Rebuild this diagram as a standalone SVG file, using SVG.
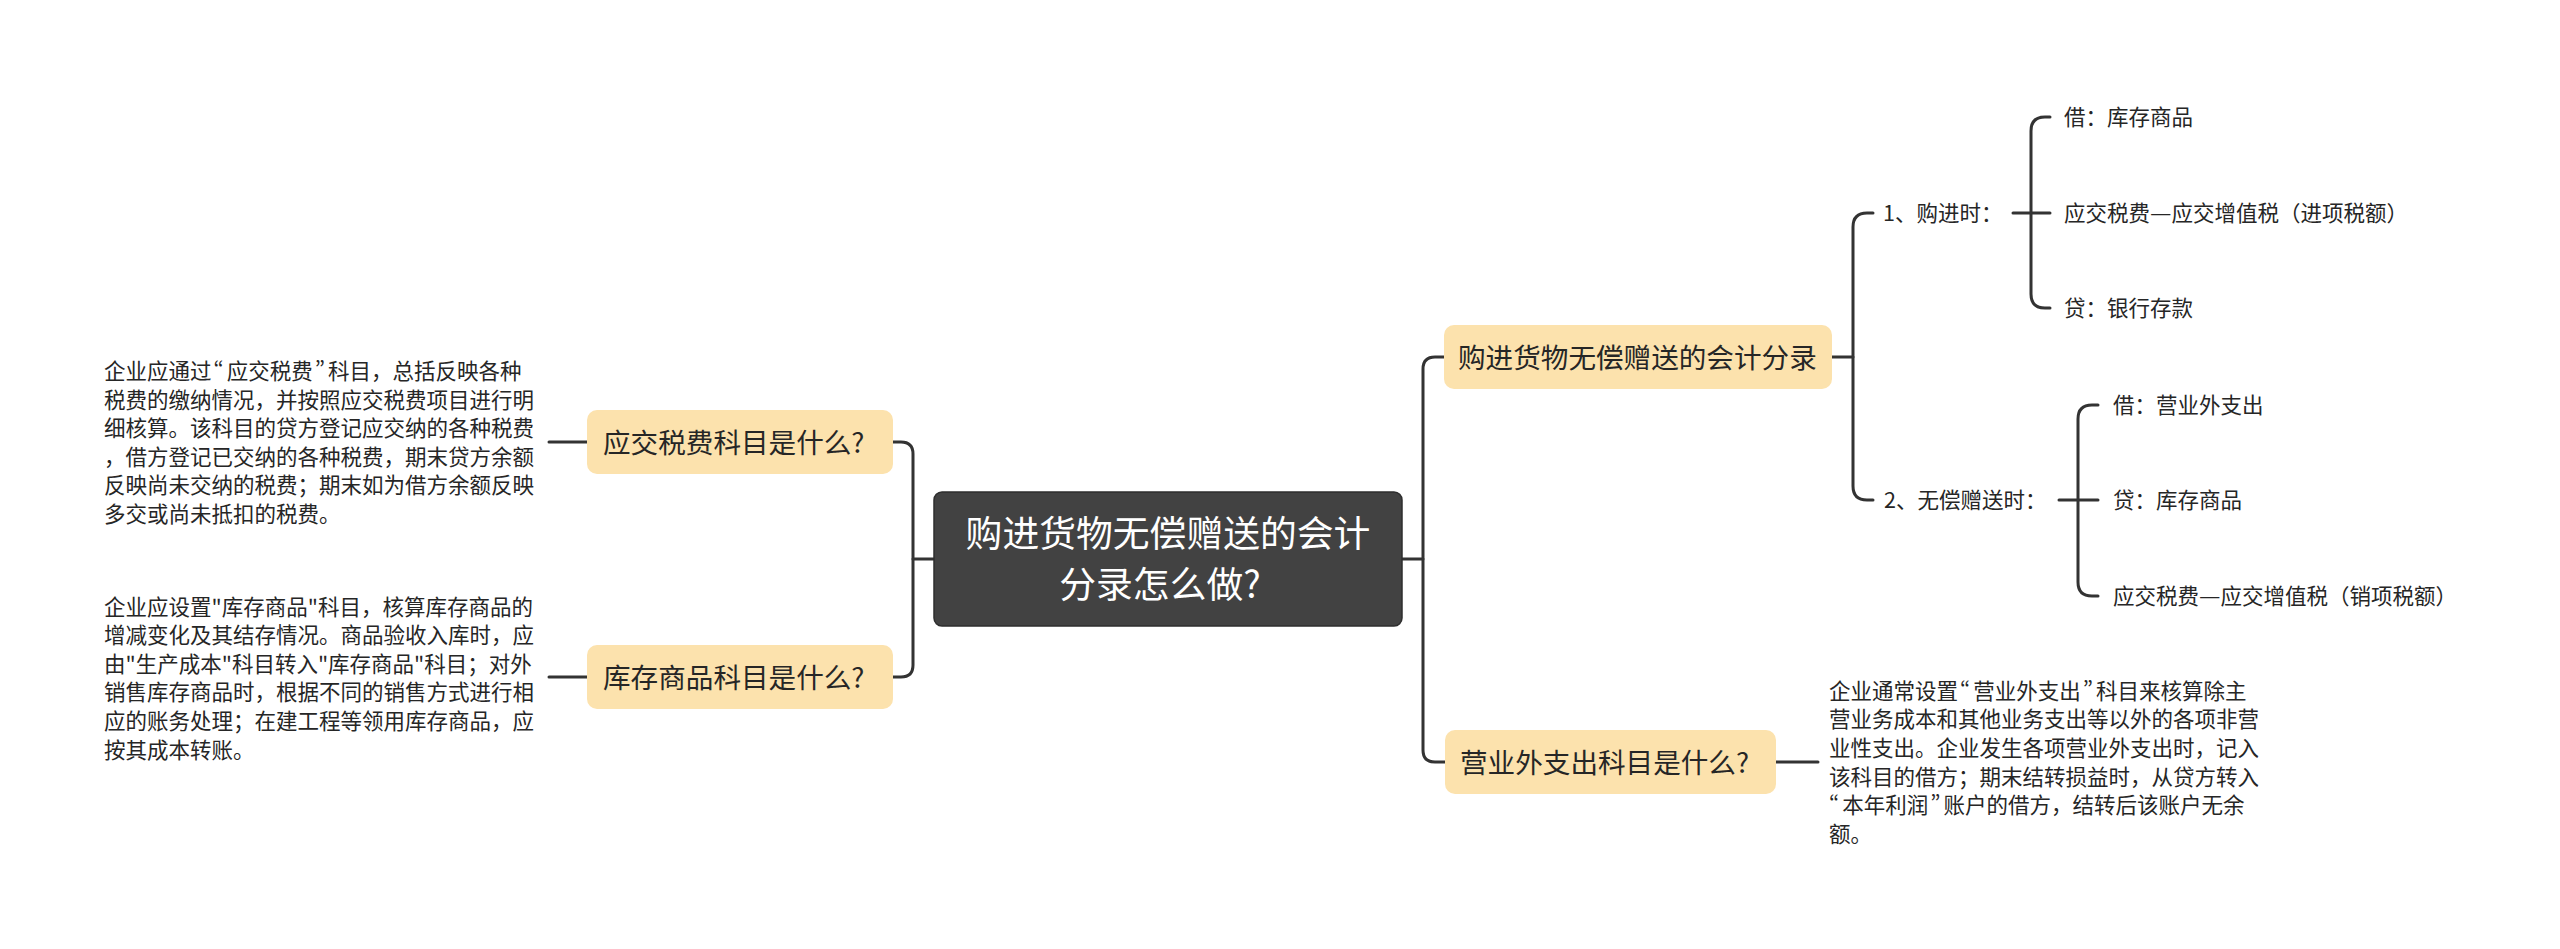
<svg xmlns="http://www.w3.org/2000/svg" width="2560" height="949" viewBox="0 0 2560 949">
<style>
text{font-family:"Noto Sans CJK SC","Noto Sans",sans-serif;fill:#262626}
.para{font-size:21.5px}
.item{font-size:21.5px}
.topic{font-size:27.6px}
.root{font-size:36.8px;fill:#ffffff}
.box{fill:#FCE2AD}
.pw{font-feature-settings:"pwid"}
.conn path{fill:none;stroke:#333333;stroke-width:3;stroke-linecap:round;stroke-linejoin:round}
</style>
<rect width="2560" height="949" fill="#ffffff"/>
<g class="conn" id="connectors">
<path d="M934 559 H913"/>
<path d="M893 442 H901 Q913 442 913 454 V665 Q913 677 901 677 H893"/>
<path d="M549 442 H587"/>
<path d="M549 677 H587"/>
<path d="M1402 559 H1423"/>
<path d="M1444 357 H1435 Q1423 357 1423 369 V750 Q1423 762 1435 762 H1445"/>
<path d="M1776 762 H1818"/>
<path d="M1832 357 H1853"/>
<path d="M1873 213 H1867 Q1853 213 1853 227 V486 Q1853 500 1867 500 H1873"/>
<path d="M2013 213 H2050"/>
<path d="M2050 117 H2045 Q2031 117 2031 131 V294 Q2031 308 2045 308 H2050"/>
<path d="M2059 500 H2098"/>
<path d="M2098 405 H2092 Q2078 405 2078 419 V582 Q2078 596 2092 596 H2098"/>
</g>
<g id="root">
<rect x="934" y="492" width="468" height="134" rx="8" fill="#424242" stroke="#2e2e2e" stroke-width="1.5"/>
<text class="root" x="1168" y="547" text-anchor="middle">购进货物无偿赠送的会计</text>
<text class="root" x="1160" y="598" text-anchor="middle">分录怎么做?</text>
</g>
<g id="node-tax">
<rect class="box" x="587" y="410" width="306" height="64" rx="10"/>
<text class="topic" x="603" y="452.5">应交税费科目是什么?</text>
</g>
<g id="text-tax">
<text class="para" x="104" y="379">企业应通过<tspan class="pw" dx="2">“</tspan><tspan dx="3">应交税费</tspan><tspan class="pw" dx="2">”</tspan><tspan dx="3">科目，总括反映各种</tspan></text>
<text class="para" x="104" y="407.6">税费的缴纳情况，并按照应交税费项目进行明</text>
<text class="para" x="104" y="436.2">细核算。该科目的贷方登记应交纳的各种税费</text>
<text class="para" x="104" y="464.8">，借方登记已交纳的各种税费，期末贷方余额</text>
<text class="para" x="104" y="493.4">反映尚未交纳的税费；期末如为借方余额反映</text>
<text class="para" x="104" y="522">多交或尚未抵扣的税费。</text>
</g>
<g id="node-stock">
<rect class="box" x="587" y="645" width="306" height="64" rx="10"/>
<text class="topic" x="603" y="687.5">库存商品科目是什么?</text>
</g>
<g id="text-stock">
<text class="para" x="104" y="614.5">企业应设置"库存商品"科目，核算库存商品的</text>
<text class="para" x="104" y="643.1">增减变化及其结存情况。商品验收入库时，应</text>
<text class="para" x="104" y="671.7">由"生产成本"科目转入"库存商品"科目；对外</text>
<text class="para" x="104" y="700.3">销售库存商品时，根据不同的销售方式进行相</text>
<text class="para" x="104" y="728.9">应的账务处理；在建工程等领用库存商品，应</text>
<text class="para" x="104" y="757.5">按其成本转账。</text>
</g>
<g id="node-entry">
<rect class="box" x="1444" y="325" width="388" height="64" rx="10"/>
<text class="topic" x="1458" y="367.5">购进货物无偿赠送的会计分录</text>
</g>
<g id="node-buy">
<text class="item" x="1883" y="221">1、购进时：</text>
</g>
<g id="node-buy-1"><text class="item" x="2064" y="125">借：库存商品</text></g>
<g id="node-buy-2"><text class="item" x="2064" y="221">应交税费<tspan textLength="21.5" lengthAdjust="spacingAndGlyphs">—</tspan>应交增值税（进项税额）</text></g>
<g id="node-buy-3"><text class="item" x="2064" y="316">贷：银行存款</text></g>
<g id="node-gift">
<text class="item" x="1884" y="508">2、无偿赠送时：</text>
</g>
<g id="node-gift-1"><text class="item" x="2113" y="413">借：营业外支出</text></g>
<g id="node-gift-2"><text class="item" x="2113" y="508">贷：库存商品</text></g>
<g id="node-gift-3"><text class="item" x="2113" y="604">应交税费<tspan textLength="21.5" lengthAdjust="spacingAndGlyphs">—</tspan>应交增值税（销项税额）</text></g>
<g id="node-nonop">
<rect class="box" x="1445" y="730" width="331" height="64" rx="10"/>
<text class="topic" x="1460" y="772.5">营业外支出科目是什么?</text>
</g>
<g id="text-nonop">
<text class="para" x="1829" y="698.7">企业通常设置<tspan class="pw" dx="2">“</tspan><tspan dx="3">营业外支出</tspan><tspan class="pw" dx="2">”</tspan><tspan dx="3">科目来核算除主</tspan></text>
<text class="para" x="1829" y="727.3">营业务成本和其他业务支出等以外的各项非营</text>
<text class="para" x="1829" y="755.9">业性支出。企业发生各项营业外支出时，记入</text>
<text class="para" x="1829" y="784.5">该科目的借方；期末结转损益时，从贷方转入</text>
<text class="para" x="1829" y="813.1"><tspan class="pw">“</tspan><tspan dx="3">本年利润</tspan><tspan class="pw" dx="2">”</tspan><tspan dx="3">账户的借方，结转后该账户无余</tspan></text>
<text class="para" x="1829" y="841.7">额。</text>
</g>
</svg>
